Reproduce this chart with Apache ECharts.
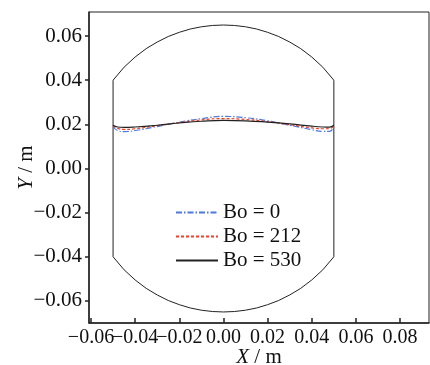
<!DOCTYPE html>
<html>
<head>
<meta charset="utf-8">
<script src="https://cdn.jsdelivr.net/npm/echarts@6/dist/echarts.min.js"></script>
<style>html,body{margin:0;padding:0;background:#fff;}#c{width:430px;height:365px;}</style>
</head>
<body>
<div id="c"></div>
<script>
// Interface position x (m)
const interfaceX = [-0.05, -0.048, -0.045, -0.04, -0.03, -0.02, -0.01, 0, 0.01, 0.02, 0.03, 0.04, 0.045, 0.048, 0.05];
// Interface heights y (m) for each Bond number
const bo0Y   = [0.0190, 0.0172, 0.0167, 0.0172, 0.0190, 0.0210, 0.0226, 0.0236, 0.0230, 0.0216, 0.0196, 0.0176, 0.0168, 0.0168, 0.0188];
const bo212Y = [0.0194, 0.0182, 0.0177, 0.0180, 0.0194, 0.0208, 0.0220, 0.0226, 0.0222, 0.0212, 0.0198, 0.0184, 0.0180, 0.0181, 0.0192];
const bo530Y = [0.0196, 0.0188, 0.0186, 0.0188, 0.0196, 0.0206, 0.0214, 0.0218, 0.0216, 0.0210, 0.0202, 0.0192, 0.0188, 0.0187, 0.0196];
// Tank wall outline (closed path)
const wallX = [-0.05, -0.05, -0.045, -0.04, -0.035, -0.03, -0.025, -0.02, -0.015, -0.01, -0.005, 0, 0.005, 0.01, 0.015, 0.02, 0.025, 0.03, 0.035, 0.04, 0.045, 0.05,
               0.05, 0.045, 0.04, 0.035, 0.03, 0.025, 0.02, 0.015, 0.01, 0.005, 0, -0.005, -0.01, -0.015, -0.02, -0.025, -0.03, -0.035, -0.04, -0.045, -0.05];
const wallY = [-0.04, 0.04, 0.0459, 0.0505, 0.0543, 0.0573, 0.0598, 0.0617, 0.0632, 0.0642, 0.0648, 0.065, 0.0648, 0.0642, 0.0632, 0.0617, 0.0598, 0.0573, 0.0543, 0.0505, 0.0459, 0.04,
               -0.04, -0.0459, -0.0505, -0.0543, -0.0573, -0.0598, -0.0617, -0.0632, -0.0642, -0.0648, -0.065, -0.0648, -0.0642, -0.0632, -0.0617, -0.0598, -0.0573, -0.0543, -0.0505, -0.0459, -0.04];
const xTicks = [-0.06, -0.04, -0.02, 0.00, 0.02, 0.04, 0.06, 0.08];
const yTicks = [-0.06, -0.04, -0.02, 0.00, 0.02, 0.04, 0.06];
const seriesNames = ['Bo = 0', 'Bo = 212', 'Bo = 530'];

const X_MIN = -0.0609, X_MAX = 0.0931;
const zip = (a, b) => a.map((v, i) => [v, b[i]]);
const fmt = v => (v < -1e-9 ? '\u2212' : '') + Math.abs(v).toFixed(2);
// Edge placeholders keep ECharts' min/max-label overlap check from hiding real labels
const xEdgeVals = [X_MIN].concat(xTicks, [X_MAX]);
const fmtX = v => (xTicks.some(t => Math.abs(t - v) < 1e-9) ? fmt(v) : '');
const FONT = 'Liberation Serif';
const FS = 21;
const chart = echarts.init(document.getElementById('c'));
chart.setOption({
  animation: false,
  backgroundColor: '#fff',
  grid: { left: 89, right: 1, top: 12, bottom: 42, show: true, borderColor: '#222', borderWidth: 1, outerBoundsMode: 'none', containLabel: false },
  legend: {
    data: seriesNames,
    orient: 'vertical', left: 170, top: 197,
    itemWidth: 42, itemHeight: 14, itemGap: 3,
    itemStyle: { opacity: 0 },
    textStyle: { fontFamily: FONT, fontSize: FS, color: '#111' }
  },
  xAxis: {
    type: 'value', min: X_MIN, max: X_MAX,
    name: '{i|X} / m', nameLocation: 'middle', nameGap: 24, nameMoveOverlap: false,
    nameTextStyle: { fontFamily: FONT, fontSize: FS, color: '#111', rich: { i: { fontFamily: FONT, fontSize: FS, fontStyle: 'italic', color: '#111' } } },
    axisLine: { onZero: false, lineStyle: { color: '#222', width: 1.5 } },
    axisTick: { inside: true, length: 5, customValues: xEdgeVals, lineStyle: { color: '#222', width: 1.5 } },
    axisLabel: { customValues: xEdgeVals, formatter: fmtX, fontFamily: FONT, fontSize: 20, color: '#111', margin: 5,
                 showMinLabel: false, showMaxLabel: false, hideOverlap: false },
    splitLine: { show: false }
  },
  yAxis: {
    type: 'value', min: -0.07, max: 0.0709,
    name: '{i|Y} / m', nameLocation: 'middle', nameGap: 52, nameRotate: 90, nameMoveOverlap: false,
    nameTextStyle: { fontFamily: FONT, fontSize: FS, color: '#111', rich: { i: { fontFamily: FONT, fontSize: FS, fontStyle: 'italic', color: '#111' } } },
    axisLine: { onZero: false, lineStyle: { color: '#222', width: 1.5 } },
    axisTick: { inside: false, length: 4, customValues: yTicks, lineStyle: { color: '#222', width: 1.5 } },
    axisLabel: { customValues: yTicks, formatter: fmt, fontFamily: FONT, fontSize: FS, color: '#111', margin: 7 },
    splitLine: { show: false }
  },
  series: [
    { name: 'wall', type: 'line', data: zip(wallX, wallY), symbol: 'none', silent: true,
      lineStyle: { color: '#222', width: 1 }, itemStyle: { color: '#222' } },
    { name: seriesNames[0], type: 'line', data: zip(interfaceX, bo0Y), symbol: 'none', smooth: true,
      lineStyle: { color: '#4f78dc', width: 1.2, type: [6, 2, 1.5, 2] }, itemStyle: { color: '#4f78dc' } },
    { name: seriesNames[1], type: 'line', data: zip(interfaceX, bo212Y), symbol: 'none', smooth: true,
      lineStyle: { color: '#e8442a', width: 1.2, type: [3, 2] }, itemStyle: { color: '#e8442a' } },
    { name: seriesNames[2], type: 'line', data: zip(interfaceX, bo530Y), symbol: 'none', smooth: true,
      lineStyle: { color: '#222', width: 1.2 }, itemStyle: { color: '#222' } }
  ]
});
</script>
</body>
</html>
